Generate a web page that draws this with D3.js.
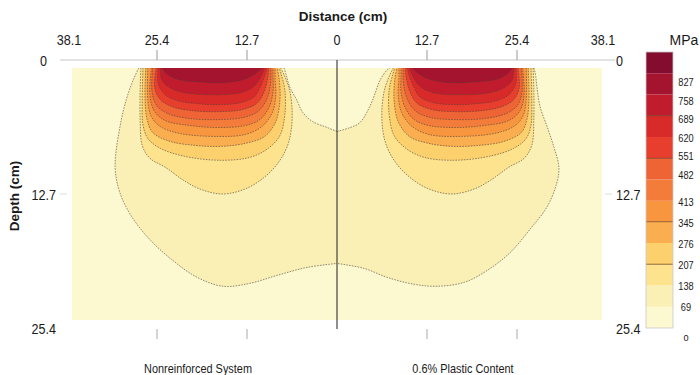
<!DOCTYPE html>
<html>
<head>
<meta charset="utf-8">
<script src="https://cdn.jsdelivr.net/npm/d3@7"></script>
<style>
body { margin: 0; background: #fff; }
text { font-family: 'Liberation Sans', Arial, sans-serif; fill: #1a1a1a; }
.bold { font-weight: bold; }
</style>
</head>
<body>
<div id="chart"></div>
<script>
// stress levels (MPa) and fill colours, lowest band first
var levels = [69, 138, 207, 276, 345, 413, 482, 551, 620, 689, 758, 827];
var levelColors = ['#fcf8cf', '#faefb4', '#fde38e', '#fdd06e', '#fbae4f', '#f8963f', '#f47c3b',
                   '#ee6434', '#e73e2e', '#d92a2a', '#c11c2d', '#a4142e', '#840c2f'];
var legendTicks = [0, 69, 138, 207, 276, 345, 413, 482, 551, 620, 689, 758, 827];
var legendMax = 896;
var legendLines = [207, 345, 551, 689];

var distanceTicks = [38.1, 25.4, 12.7, 0];
var markedTicks = [25.4, 12.7];
var depthTicks = [0, 12.7, 25.4];
var panelNames = ['Nonreinforced System', '0.6% Plastic Content'];

// 69 MPa contour, [distance from centre cm, depth cm]
var leftOuter69 = [[28.5,0],[29.3,1.2],[30.3,3.2],[31.2,5.9],[31.9,10.0],[31.2,12.6],[29.5,15.0],[26.9,17.3],
  [23.6,19.4],[20.1,21.1],[16.4,22.0],[12.5,21.7],[8.6,20.9],[4.3,20.1],[0,19.7]];
var leftNotch69 = [[0,6.4],[1.4,6.0],[3.5,5.4],[4.9,4.5],[5.8,3.2],[6.8,1.9],[7.3,0.7],[7.6,0]];
var rightOuter69 = [[28.3,0],[28.5,0.5],[28.8,2.2],[29.2,3.9],[30.2,5.9],[31.2,8.0],[31.9,10.0],[31.6,11.6],
  [30.2,14.0],[27.7,16.3],[24.9,18.6],[21.6,20.4],[18.3,21.6],[14.4,22.0],[11.1,21.8],[7.2,21.1],[3.9,20.2],[0,19.7]];
var rightNotch69 = [[0,6.4],[1.9,6.0],[3.3,5.5],[4.7,3.9],[5.5,2.5],[6.2,1.2],[7.2,0.2],[7.6,0]];

// bulb contours under the load, same reading in both panels
var contour138 = [[28.2,0],[28.3,2.2],[28.3,5.2],[28.0,7.8],[26.9,9.1],[24.7,10.0],[22.1,11.3],[19.7,12.2],
  [16.4,12.7],[12.9,12.1],[10.1,10.8],[8.2,9.3],[7.0,7.6],[6.5,5.7],[6.5,3.7],[6.9,2.0],[7.6,0.7],[8.1,0]];
var contour207 = [[27.9,0],[28.0,3.2],[27.9,5.7],[27.2,7.1],[25.4,8.1],[21.9,8.9],[16.8,9.3],[12.5,9.0],
  [9.9,8.1],[8.2,6.8],[7.5,4.7],[7.5,2.2],[8.0,0.7],[8.3,0]];
var contour276 = [[27.5,0],[27.6,3.2],[27.3,5.2],[26.5,6.5],[24.0,7.4],[20.4,7.8],[16.8,7.9],[13.2,7.6],
  [10.4,6.9],[8.8,5.4],[8.2,3.2],[8.3,1.2],[8.6,0]];
var contour345 = [[27.2,0],[27.2,3.2],[26.7,4.9],[25.4,5.9],[22.6,6.6],[17.1,6.9],[13.2,6.7],[10.8,5.9],
  [9.3,4.5],[8.8,2.7],[8.9,1.0],[8.9,0]];
var contour413 = [[26.7,0],[26.9,2.7],[26.3,4.3],[24.7,5.3],[21.1,5.8],[17.1,6.0],[13.2,5.8],[11.1,5.2],
  [9.8,4.0],[9.2,2.4],[9.2,0.8],[9.2,0]];
var contour482 = [[26.5,0],[26.6,2.4],[25.9,3.8],[24.3,4.6],[21.1,5.1],[17.1,5.2],[13.5,5.0],[11.4,4.4],
  [10.2,3.3],[9.6,1.8],[9.5,0]];
var contour551 = [[26.0,0],[26.2,2.0],[25.4,3.2],[23.7,3.9],[20.8,4.3],[17.1,4.4],[13.7,4.2],[11.6,3.6],
  [10.6,2.6],[10.0,1.2],[9.8,0]];
var contour620 = [[25.7,0],[25.7,1.6],[24.7,2.7],[22.9,3.3],[20.0,3.6],[17.1,3.7],[13.9,3.5],[11.9,2.9],
  [11.1,2.0],[10.4,0.8],[10.1,0]];
var contour689 = [[25.4,0],[25.2,1.2],[24.0,2.0],[21.9,2.5],[17.1,2.7],[13.9,2.5],[12.2,2.0],[11.2,1.2],[10.4,0]];
var contour758 = [[25.2,0],[24.3,0.7],[22.6,1.2],[19.7,1.4],[17.1,1.5],[14.2,1.3],[12.5,0.9],[11.6,0.5],[10.8,0]];

var bulbContours = [
  {level: 138, pts: contour138}, {level: 207, pts: contour207}, {level: 276, pts: contour276},
  {level: 345, pts: contour345}, {level: 413, pts: contour413}, {level: 482, pts: contour482},
  {level: 551, pts: contour551}, {level: 620, pts: contour620}, {level: 689, pts: contour689},
  {level: 758, pts: contour758}
];

var width = 700, height = 375;
var center = 337;
var squeeze = 0.84; // narrow typeface look

var svg = d3.select('#chart').append('svg')
    .attr('width', width)
    .attr('height', height);

// places text squeezed horizontally
function narrow(sel, fx, fy) {
  return sel.attr('transform', (d, i) => `translate(${fx(d, i)}, ${fy(d, i)}) scale(${squeeze}, 1)`);
}

var color = d3.scaleThreshold().domain(levels).range(levelColors);

// the contour images sit a little inside the axis frame
var xPlot = [
  d3.scaleLinear().domain([0, 38.1]).range([center, 72]),
  d3.scaleLinear().domain([0, 38.1]).range([center, 602])
];
var xAxisScale = [
  d3.scaleLinear().domain([0, 38.1]).range([center, 67]),
  d3.scaleLinear().domain([0, 38.1]).range([center, 607])
];
var yPlot = d3.scaleLinear().domain([0, 25.4]).range([68, 320]);
var yAxisScale = d3.scaleLinear().domain([0, 25.4]).range([60, 328]);

var panels = [
  {outer: leftOuter69, notch: leftNotch69},
  {outer: rightOuter69, notch: rightNotch69}
];

var defs = svg.append('defs');

panels.forEach(function(p, i) {
  var xs = xPlot[i];
  var line = d3.line()
      .x(d => xs(d[0]))
      .y(d => yPlot(d[1]))
      .curve(d3.curveCatmullRom.alpha(0.5));

  var x0 = Math.min(xs(0), xs(38.1)), x1 = Math.max(xs(0), xs(38.1));
  defs.append('clipPath').attr('id', 'clip' + i)
    .append('rect')
      .attr('x', x0).attr('y', yPlot(0))
      .attr('width', x1 - x0).attr('height', yPlot(25.4) - yPlot(0));

  var g = svg.append('g').attr('clip-path', 'url(#clip' + i + ')');

  g.append('rect')
    .attr('x', x0).attr('y', yPlot(0))
    .attr('width', x1 - x0).attr('height', yPlot(25.4) - yPlot(0))
    .attr('fill', color(0));

  // outer 69 MPa region, joined along the centre line
  g.append('path')
    .attr('d', line(p.outer) + line(p.notch).replace('M', 'L') + 'Z')
    .attr('fill', color(69));

  g.selectAll('.band')
    .data(bulbContours)
    .enter()
    .append('path')
    .attr('class', 'band')
    .attr('d', d => line(d.pts) + 'Z')
    .attr('fill', d => color(d.level));

  var strokes = [p.outer, p.notch].concat(bulbContours.map(d => d.pts));
  g.selectAll('.iso')
    .data(strokes)
    .enter()
    .append('path')
    .attr('class', 'iso')
    .attr('d', d => line(d))
    .attr('fill', 'none')
    .attr('stroke', '#4a4038')
    .attr('stroke-width', 0.7)
    .attr('stroke-dasharray', '1.6,1.2')
    .attr('opacity', 0.85);
});

// top distance axis
svg.append('line')
  .attr('x1', 60).attr('x2', 615)
  .attr('y1', yAxisScale(0)).attr('y2', yAxisScale(0))
  .attr('stroke', '#c8c8c8').attr('stroke-width', 1.2);

xAxisScale.forEach(function(xs, i) {
  svg.selectAll('.ttick' + i)
    .data(markedTicks)
    .enter()
    .append('line')
    .attr('x1', d => xs(d)).attr('x2', d => xs(d))
    .attr('y1', yAxisScale(0) - 10).attr('y2', yAxisScale(0))
    .attr('stroke', '#999');

  svg.selectAll('.btick' + i)
    .data(markedTicks)
    .enter()
    .append('line')
    .attr('x1', d => xs(d)).attr('x2', d => xs(d))
    .attr('y1', yAxisScale(25.4) + 1).attr('y2', yAxisScale(25.4) + 11)
    .attr('stroke', '#aaa');

  svg.selectAll('.tlabel' + i)
    .data(distanceTicks.filter(d => i === 0 || d > 0))
    .enter()
    .append('text')
    .attr('text-anchor', 'middle')
    .style('font-size', '15px')
    .text(d => d3.format('~g')(d))
    .call(narrow, d => xs(d) + (d === 38.1 ? (i === 0 ? 2 : -4) : 0), () => 45);
});

// centre divider
svg.append('line')
  .attr('x1', center).attr('x2', center)
  .attr('y1', yAxisScale(0)).attr('y2', yAxisScale(25.4) + 1)
  .attr('stroke', '#333').attr('stroke-width', 1.1);

// depth labels on both sides
svg.selectAll('.dlabel')
  .data(depthTicks)
  .enter()
  .append('text')
  .attr('text-anchor', 'end')
  .style('font-size', '15px')
  .text(d => d3.format('~g')(d))
  .call(narrow, d => d === 0 ? 47 : 56, d => yAxisScale(d) + 5.5);

svg.selectAll('.rlabel')
  .data(depthTicks)
  .enter()
  .append('text')
  .attr('text-anchor', 'start')
  .style('font-size', '15px')
  .text(d => d3.format('~g')(d))
  .call(narrow, () => 616, d => yAxisScale(d) + 5.5);

[[60, 67], [605, 612]].forEach(function(xx) {
  svg.append('line')
    .attr('x1', xx[0]).attr('x2', xx[1])
    .attr('y1', yAxisScale(12.7)).attr('y2', yAxisScale(12.7))
    .attr('stroke', '#ddd');
});

// titles
svg.append('text')
  .attr('class', 'bold')
  .attr('x', 343).attr('y', 21)
  .attr('text-anchor', 'middle')
  .style('font-size', '13.5px')
  .text('Distance (cm)');

svg.append('text')
  .attr('class', 'bold')
  .attr('transform', 'translate(19,196) rotate(-90)')
  .attr('text-anchor', 'middle')
  .style('font-size', '13.5px')
  .text('Depth (cm)');

svg.selectAll('.pname')
  .data(panelNames)
  .enter()
  .append('text')
  .attr('text-anchor', 'middle')
  .style('font-size', '13px')
  .text(d => d)
  .call(narrow, (d, i) => [198, 463][i], () => 373);

// colour legend
var legendScale = d3.scaleLinear().domain([0, legendMax]).range([328, 52]);
var labelScale = d3.scaleLinear().domain([0, 69, 413, 482, 827]).range([337, 307, 202, 175, 82]);
var bins = legendTicks.map((d, i) => [d, i < legendTicks.length - 1 ? legendTicks[i + 1] : legendMax]);

var legend = svg.append('g');

legend.selectAll('.bin')
  .data(bins)
  .enter()
  .append('rect')
  .attr('x', 646).attr('width', 27)
  .attr('y', d => legendScale(d[1]))
  .attr('height', d => legendScale(d[0]) - legendScale(d[1]))
  .attr('fill', d => color(d[0]));

legend.selectAll('.sep')
  .data(legendLines)
  .enter()
  .append('line')
  .attr('x1', 646).attr('x2', 673)
  .attr('y1', d => legendScale(d)).attr('y2', d => legendScale(d))
  .attr('stroke', '#6b3a1a').attr('stroke-opacity', 0.7);

legend.append('rect')
  .attr('x', 646).attr('y', legendScale(legendMax))
  .attr('width', 27).attr('height', legendScale(0) - legendScale(legendMax))
  .attr('fill', 'none').attr('stroke', '#c8c8c8').attr('stroke-width', 0.8);

legend.selectAll('.ltext')
  .data(legendTicks)
  .enter()
  .append('text')
  .attr('text-anchor', 'middle')
  .style('font-size', '11px')
  .text(d => d === 0 ? 'o' : d)
  .call(narrow, () => 686, d => labelScale(d) + 4);

legend.append('text')
  .attr('x', 684).attr('y', 45)
  .attr('text-anchor', 'middle')
  .style('font-size', '14px')
  .text('MPa');
</script>
</body>
</html>
